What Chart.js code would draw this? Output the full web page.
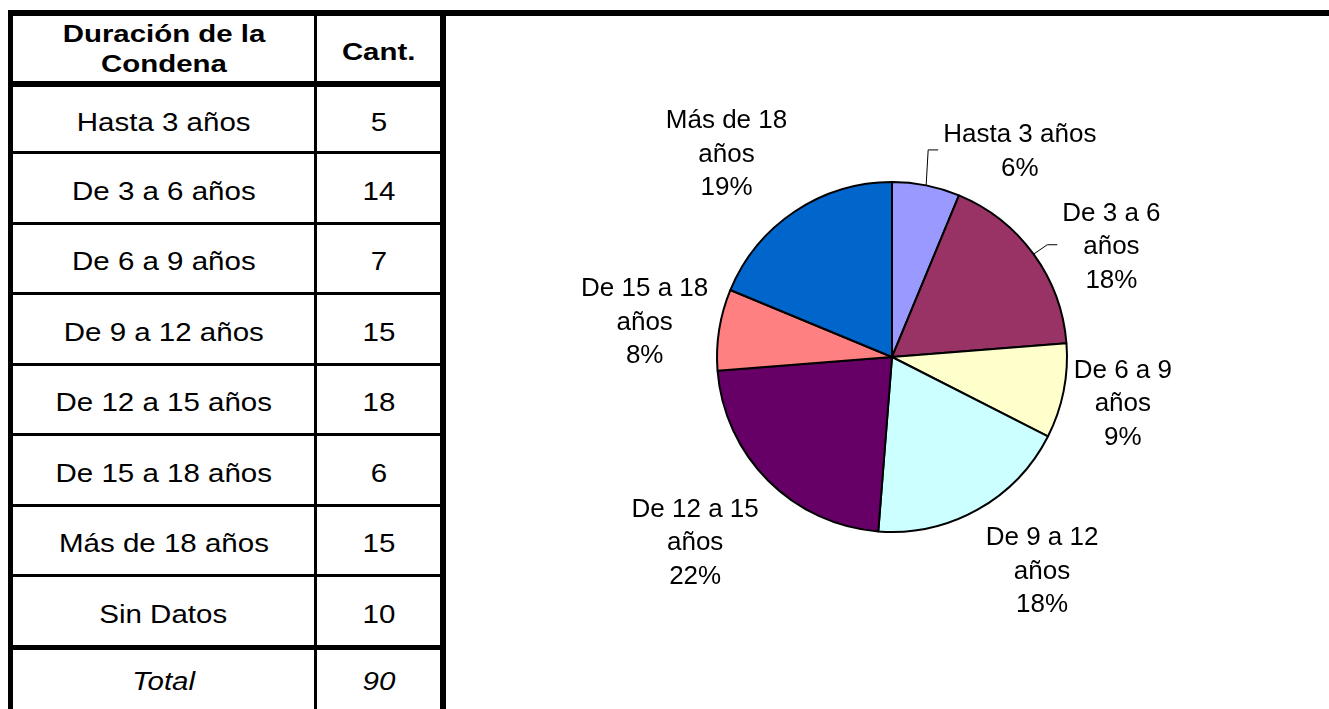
<!DOCTYPE html>
<html><head><meta charset="utf-8">
<script src="https://cdn.jsdelivr.net/npm/chart.js@4/dist/chart.umd.min.js"></script>
<style>
html,body{margin:0;padding:0;background:#fff;width:1329px;height:709px;overflow:hidden;position:relative;font-family:"Liberation Sans",Arial,sans-serif;}
.ln{position:absolute;background:#000;}
.cell{position:absolute;display:flex;align-items:center;justify-content:center;box-sizing:border-box;color:#000;font-size:25px;}
.cell span{display:inline-block;transform:scaleX(1.18);text-align:center;}
.hdr{font-weight:bold;font-size:24.5px;line-height:30.5px;}
.hdr span{transform:scaleX(1.2);max-width:200px;}
.it{font-style:italic;}
#wrap{position:absolute;left:446px;top:16px;width:883px;height:693px;}
</style></head><body>
<div id="tbl"></div>
<div id="wrap"><canvas id="c" width="883" height="693"></canvas></div>
<script>
// ---- data ----
const headerLabels = ["Duración de la Condena", "Cant."];
const categories = ["Hasta 3 años","De 3 a 6 años","De 6 a 9 años","De 9 a 12 años","De 12 a 15 años","De 15 a 18 años","Más de 18 años","Sin Datos"];
const counts = [5,14,7,15,18,6,15,10];
const totalLabel = "Total";
const totalValue = 90;
const pieCategories = ["Hasta 3 años","De 3 a 6 años","De 6 a 9 años","De 9 a 12 años","De 12 a 15 años","De 15 a 18 años","Más de 18 años"];
const pieValues = [5,14,7,15,18,6,15];
const piePercentLabels = ["6%","18%","9%","18%","22%","8%","19%"];
const pieColors = ["#9999FF","#993366","#FFFFCC","#CCFFFF","#660066","#FF8080","#0066CC"];

// ---- table (HTML) ----
const tbl = document.getElementById('tbl');
function addDiv(cls, l, t, w, h, html){
  const d = document.createElement('div');
  d.className = cls;
  d.style.left = l+'px'; d.style.top = t+'px'; d.style.width = w+'px'; d.style.height = h+'px';
  if (html !== undefined) d.innerHTML = html;
  tbl.appendChild(d);
  return d;
}
const col1L = 13, col1R = 314, col2L = 317, col2R = 440;
const lineTops = [10, 81];
const lineThick = [6, 6];
for (let i = 1; i <= categories.length; i++) { lineTops.push(Math.round(81 + 70.45*i)); lineThick.push(i === categories.length ? 5 : 3); }
// horizontal lines
lineTops.forEach((t,i)=>{ addDiv('ln', 8, t, (i===0 ? 1329-8 : 446-8), lineThick[i]); });
// vertical lines
addDiv('ln', 8, 10, 5, 709-10);
addDiv('ln', 314, 10, 3, 709-10);
addDiv('ln', 440, 10, 6, 709-10);
function cellPair(top, bottom, a, b, cls, pad1, pad2){
  const c1 = addDiv('cell '+cls, col1L, top, col1R-col1L, bottom-top, '<span>'+a+'</span>');
  const c2 = addDiv('cell '+cls, col2L, top, col2R-col2L, bottom-top, '<span>'+b+'</span>');
  c1.style.paddingTop = pad1+'px'; c2.style.paddingTop = pad2+'px';
}
cellPair(16, 81, headerLabels[0], headerLabels[1], 'hdr', 1, 7);
for (let i = 0; i < categories.length; i++) {
  const top = lineTops[i+1] + lineThick[i+1];
  const bottom = lineTops[i+2];
  cellPair(top, bottom, categories[i], String(counts[i]), '', 6, 6);
}
{
  const top = lineTops[lineTops.length-1] + lineThick[lineThick.length-1];
  cellPair(top, top + 62, totalLabel, String(totalValue), 'it', 0, 0);
}

// ---- pie ----
const labelNudge = [[83,18],[14,37],[-10,-3],[26,-9],[-10,-3],[8,4],[-22,10]];
const labelLeader = [true,true,false,false,false,false,false];
const FS = 26, LH = 33.5;
function wrapText(ctx, text, maxW){
  const words = text.split(' '); const out = []; let cur = '';
  words.forEach(w=>{
    const t = cur ? cur+' '+w : w;
    if (ctx.measureText(t).width > maxW && cur) { out.push(cur); cur = w; } else cur = t;
  });
  if (cur) out.push(cur);
  return out;
}
const labelPlugin = {
  id:'pieLabels',
  afterDatasetsDraw(chart){
    const ctx = chart.ctx; const meta = chart.getDatasetMeta(0);
    ctx.save();
    ctx.font = FS+'px "Liberation Sans", Arial, sans-serif';
    ctx.fillStyle = '#000'; ctx.textAlign = 'center'; ctx.textBaseline = 'alphabetic';
    meta.data.forEach((arc,i)=>{
      const p = arc.getProps(['x','y','startAngle','endAngle','outerRadius'], true);
      const mid = (p.startAngle + p.endAngle)/2;
      const dx = Math.cos(mid), dy = Math.sin(mid);
      const lines = wrapText(ctx, pieCategories[i], 158).concat([piePercentLabels[i]]);
      const w = Math.max(...lines.map(l=>ctx.measureText(l).width));
      const h = (lines.length-1)*LH + 0.716*FS;
      const support = Math.abs(dx)*w/2 + Math.abs(dy)*h/2;
      const d = p.outerRadius + 14 + support;
      const cx = p.x + dx*d + labelNudge[i][0];
      const cy = p.y + dy*d + labelNudge[i][1];
      lines.forEach((l,j)=>{
        const yy = cy - (lines.length-1)*LH/2 + j*LH + 0.358*FS;
        ctx.fillText(l, cx, yy);
      });
      if (labelLeader[i]) {
        const left = cx - w/2;
        ctx.beginPath();
        ctx.strokeStyle = '#000'; ctx.lineWidth = 1;
        ctx.moveTo(p.x + dx*p.outerRadius, p.y + dy*p.outerRadius);
        ctx.lineTo(left - 15, cy);
        ctx.lineTo(left - 5, cy);
        ctx.stroke();
      }
    });
    ctx.restore();
  }
};
Chart.defaults.font.family = '"Liberation Sans", Arial, sans-serif';
new Chart(document.getElementById('c'), {
  type: 'pie',
  data: { labels: pieCategories, datasets: [{ data: pieValues, backgroundColor: pieColors, borderColor: '#000', borderWidth: 2 }] },
  options: {
    responsive: false, animation: false,
    layout: { padding: { left: 270, right: 261, top: 165, bottom: 176 } },
    plugins: { legend: { display: false }, tooltip: { enabled: false } }
  },
  plugins: [labelPlugin]
});
</script>
</body></html>
